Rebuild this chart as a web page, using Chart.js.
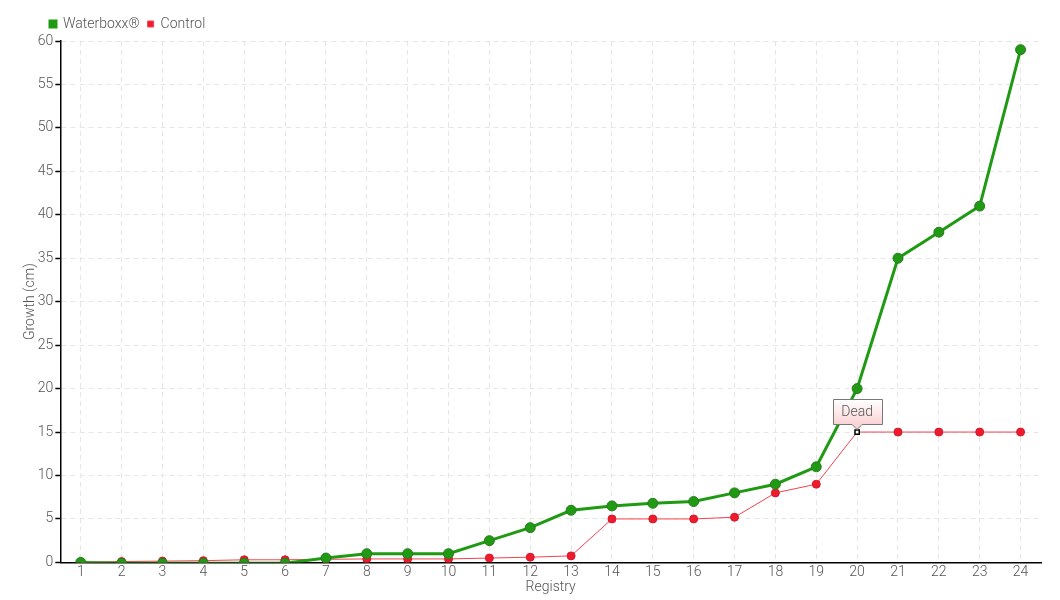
<!DOCTYPE html>
<html>
<head>
<meta charset="utf-8">
<script src="https://cdn.jsdelivr.net/npm/chart.js@4.4.0/dist/chart.umd.min.js"></script>
<style>
  html, body { margin: 0; padding: 0; background: #fff; }
  #wrap { width: 1060px; height: 600px; position: relative; }
</style>
</head>
<body>
<div id="wrap"><canvas id="growth"></canvas></div>
<script>
// registry numbers along the x axis
const registry = ['1','2','3','4','5','6','7','8','9','10','11','12','13','14','15','16','17','18','19','20','21','22','23','24'];
// growth in cm
const waterboxx = [0, -0.1, -0.1, -0.1, -0.1, -0.1, 0.5, 1, 1, 1, 2.5, 4, 6, 6.5, 6.8, 7, 8, 9, 11, 20, 35, 38, 41, 59];
const control   = [0, 0.1, 0.15, 0.2, 0.3, 0.3, 0.35, 0.4, 0.4, 0.4, 0.5, 0.6, 0.75, 5, 5, 5, 5.2, 8, 9, 15, 15, 15, 15, 15];
const deadIndex = 19;
const deadNote = 'Dead';
const yTicks = [0, 5, 10, 15, 20, 25, 30, 35, 40, 45, 50, 55, 60];

const FONT = "Roboto, sans-serif";
const GREEN = '#1f9a12';
const RED = '#ee1b2e';
const TXT = '#555';

// callout box above the dead control point
const deadLabel = {
  id: 'deadLabel',
  afterDatasetsDraw(chart){
    const pt = chart.getDatasetMeta(1).data[deadIndex];
    if(!pt) return;
    const c = chart.ctx;
    const w = 49, h = 25, x = Math.round(pt.x - w/2) + 0.5, y = Math.round(pt.y - 33) + 0.5;
    c.save();
    const g = c.createLinearGradient(0, y, 0, y+h);
    g.addColorStop(0, '#ffffff');
    g.addColorStop(1, '#fbd3d6');
    c.beginPath();
    c.moveTo(x, y);
    c.lineTo(x+w, y);
    c.lineTo(x+w, y+h);
    c.lineTo(pt.x+5, y+h);
    c.lineTo(pt.x, y+h+5);
    c.lineTo(pt.x-5, y+h);
    c.lineTo(x, y+h);
    c.closePath();
    c.fillStyle = g;
    c.fill();
    c.strokeStyle = '#777';
    c.lineWidth = 1;
    c.stroke();
    c.fillStyle = TXT;
    c.font = '300 14px ' + FONT;
    c.textAlign = 'center';
    c.textBaseline = 'middle';
    c.fillText(deadNote, pt.x, y + h/2);
    c.restore();
  }
};

// legend sits a bit further right than the chart's left edge
const legendShift = {
  id: 'legendShift',
  afterLayout(chart){ if(chart.legend) chart.legend.left += 20; }
};

const ctrlStyle = control.map((v,i)=> i===deadIndex ? 'rect' : 'circle');
const ctrlRadius = control.map((v,i)=> i===deadIndex ? 3 : 4);
const ctrlBg = control.map((v,i)=> i===deadIndex ? '#fff' : RED);
const ctrlBorder = control.map((v,i)=> i===deadIndex ? '#000' : '#d41a2a');
const ctrlBorderW = control.map((v,i)=> i===deadIndex ? 1.5 : 1);

const tickFont = { family: FONT, size: 14, weight: 300 };

new Chart(document.getElementById('growth').getContext('2d'), {
  type: 'line',
  data: {
    labels: registry,
    datasets: [{
      label: 'Waterboxx®',
      data: waterboxx,
      borderColor: GREEN,
      backgroundColor: GREEN,
      borderWidth: 3,
      pointRadius: 5,
      pointBackgroundColor: '#1f9a12',
      pointBorderColor: '#2a7a22',
      pointBorderWidth: 1,
      tension: 0,
      fill: false
    }, {
      label: 'Control',
      data: control,
      borderColor: '#f5424f',
      backgroundColor: RED,
      borderWidth: 1,
      pointStyle: ctrlStyle,
      pointRadius: ctrlRadius,
      pointBackgroundColor: ctrlBg,
      pointBorderColor: ctrlBorder,
      pointBorderWidth: ctrlBorderW,
      tension: 0,
      fill: false
    }]
  },
  options: {
    responsive: true,
    maintainAspectRatio: false,
    animation: false,
    layout: { padding: { left: 22, right: 19, top: 9, bottom: 4 } },
    plugins: {
      legend: {
        align: 'start',
        labels: {
          boxWidth: 6, boxHeight: 6, padding: 8,
          color: TXT,
          font: tickFont
        }
      },
      tooltip: { enabled: false }
    },
    scales: {
      x: {
        offset: true,
        grid: { offset: false, color: '#e6e6e6', drawTicks: false },
        border: { color: '#000', width: 1.5, dash: [5,4] },
        ticks: { color: TXT, padding: 2, font: tickFont },
        title: { display: true, text: 'Registry', color: TXT, padding: { top: -4, bottom: 0 }, font: tickFont }
      },
      y: {
        min: 0, max: 60,
        afterBuildTicks: (axis)=>{ axis.ticks = yTicks.map(v=>({ value: v })); },
        grid: { color: '#e6e6e6', tickColor: '#000', tickLength: 5, tickBorderDash: [], tickWidth: 1.5 },
        border: { color: '#000', width: 1.5, dash: [5,4] },
        ticks: { color: TXT, padding: 2, font: tickFont },
        title: { display: true, text: 'Growth (cm)', color: TXT, padding: { top: 0, bottom: -3 }, font: tickFont }
      }
    }
  },
  plugins: [deadLabel, legendShift]
});
</script>
</body>
</html>
